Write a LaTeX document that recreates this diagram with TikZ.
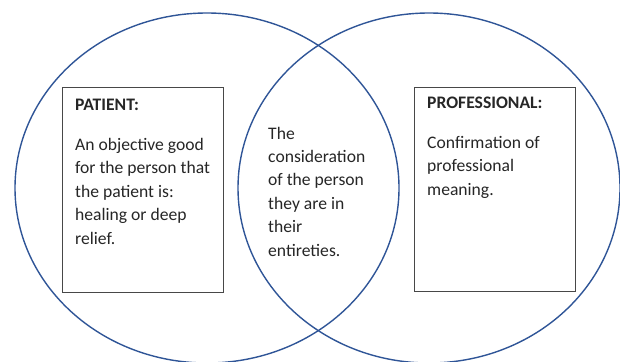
\documentclass[tikz,border=0pt]{standalone}
\usepackage{fontspec}
\setmainfont{Carlito}

\definecolor{vennblue}{HTML}{2F5597}
\definecolor{inkgray}{HTML}{262626}
\definecolor{boxgray}{HTML}{474747}

\tikzset{
  vennring/.style={draw=vennblue, line width=1.4pt},
  notebox/.style={draw=boxgray, line width=0.9pt, inner sep=0pt, anchor=north west},
  notetext/.style={anchor=base west, align=left, inner sep=0pt, text=inkgray,
    font=\fontsize{17.6}{23.4}\selectfont},
}

\begin{document}
\begin{tikzpicture}
    \pgfsetxvec{\pgfpoint{1pt}{0}}
    \pgfsetyvec{\pgfpoint{0}{-1pt}}
    \useasboundingbox (0,0) rectangle (620,361);

    % the two rings
    \draw[vennring] (207,188) ellipse [x radius=192pt, y radius=175pt];
    \draw[vennring] (429,188) ellipse [x radius=191pt, y radius=175pt];

    % side boxes
    \node[notebox, minimum width=161pt, minimum height=205pt] (patbox) at (62,87) {};
    \node[notebox, minimum width=161pt, minimum height=204pt] (profbox) at (414,87) {};

    % base of a block is under its last line
    \node[notetext] (pathead) at (75,110) {\bfseries PATIENT:};
    \node[notetext] (patbody) at (75,244) {An objective good\\for the person that\\the patient is:\\healing or deep\\relief.};

    \node[notetext] (midbody) at (268,256) {The\\consideration\\of the person\\they are in\\their\\entireties.};

    \node[notetext] (profhead) at (427,108) {\bfseries PROFESSIONAL:};
    \node[notetext] (profbody) at (427,195) {Confirmation of\\professional\\meaning.};
\end{tikzpicture}
\end{document}
